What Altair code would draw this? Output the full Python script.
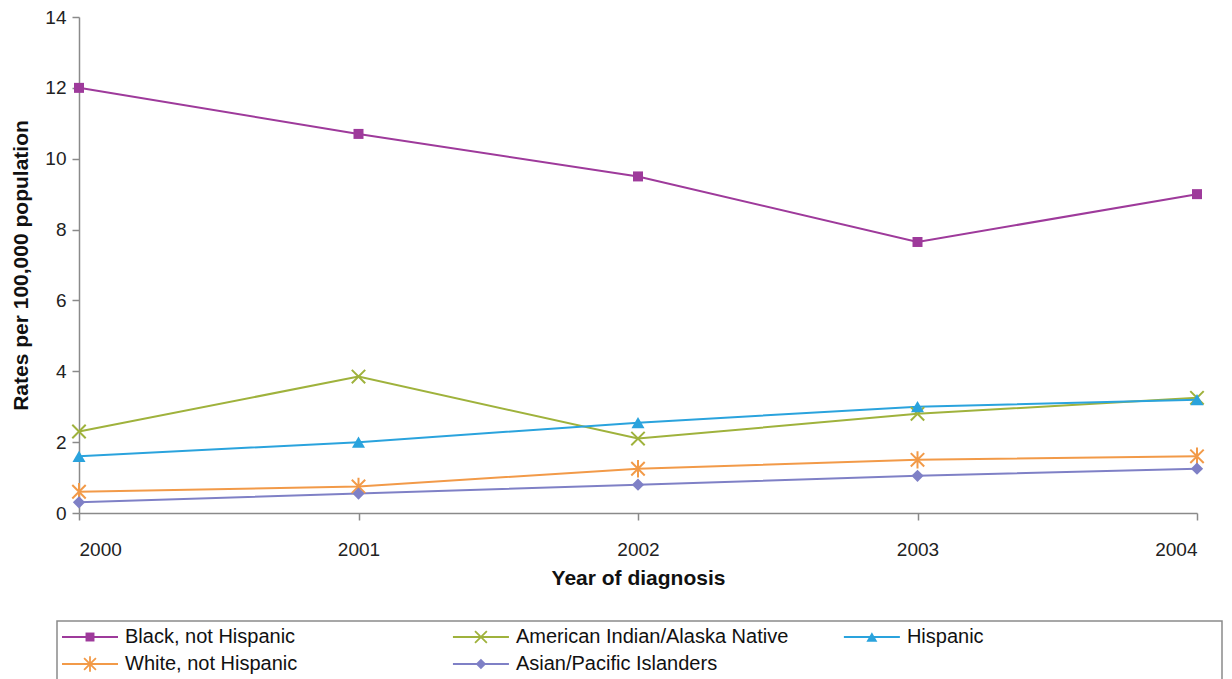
import altair as alt
import pandas as pd

years = [2000, 2001, 2002, 2003, 2004]
series_names = [
    "Black, not Hispanic",
    "American Indian/Alaska Native",
    "Hispanic",
    "White, not Hispanic",
    "Asian/Pacific Islanders",
]
black = [12.0, 10.7, 9.5, 7.65, 9.0]
aian = [2.3, 3.85, 2.1, 2.8, 3.25]
hispanic = [1.6, 2.0, 2.55, 3.0, 3.2]
white = [0.6, 0.75, 1.25, 1.5, 1.6]
asian = [0.3, 0.55, 0.8, 1.05, 1.25]

colors = ["#9E3A9B", "#9FB23C", "#2AA3DD", "#F29A48", "#7F80C6"]
shapes = [
    "square",
    "M-1,-1L1,1M-1,1L1,-1",
    "triangle-up",
    "M-1,-1L1,1M-1,1L1,-1M0,-1.3L0,1.3",
    "diamond",
]
filled = [True, False, True, False, True]
marker_sizes = [100, 180, 170, 180, 150]
legend_marker_sizes = [80, 140, 120, 140, 110]

rows = []
for name, vals in zip(series_names, [black, aian, hispanic, white, asian]):
    for yr, v in zip(years, vals):
        rows.append({"year": yr, "rate": v, "series": name})
df = pd.DataFrame(rows)

leg_rows = []
for i, name in enumerate(series_names):
    leg_rows.append({"series": name, "col": i % 3, "row": i // 3})
leg_df = pd.DataFrame(leg_rows)

FONT = "Liberation Sans, Arial, sans-serif"
AXIS_GRAY = "#8a8a8a"
INSET = 22          # plot starts this far right of the legend box edge
PANEL_W = 1165
PLOT_W = 1118

color_scale = alt.Scale(domain=series_names, range=colors)
shape_scale = alt.Scale(domain=series_names, range=shapes)

x_enc = alt.X(
    "year:Q",
    scale=alt.Scale(domain=[2000, 2004], nice=False, zero=False, range=[INSET, INSET + PLOT_W]),
    axis=alt.Axis(
        values=years, format="d", title="Year of diagnosis", grid=False,
        tickSize=7, labelPadding=20, titlePadding=8,
        labelFont=FONT, labelFontSize=19, labelColor="#222",
        titleFont=FONT, titleFontSize=21, titleFontWeight="bold", titleColor="#111",
        domainColor=AXIS_GRAY, tickColor=AXIS_GRAY, domainWidth=1.5, tickWidth=1.5,
    ),
)
y_enc = alt.Y(
    "rate:Q",
    scale=alt.Scale(domain=[0, 14], nice=False),
    axis=alt.Axis(
        values=[0, 2, 4, 6, 8, 10, 12, 14], title="Rates per 100,000 population", grid=False,
        tickSize=7, labelPadding=6, titlePadding=13, offset=-INSET,
        labelFont=FONT, labelFontSize=19, labelColor="#222",
        titleFont=FONT, titleFontSize=21, titleFontWeight="bold", titleColor="#111",
        domainColor=AXIS_GRAY, tickColor=AXIS_GRAY, domainWidth=1.5, tickWidth=1.5,
    ),
)
color_enc = alt.Color("series:N", scale=color_scale, legend=None)
shape_enc = alt.Shape("series:N", scale=shape_scale, legend=None)

layers = [
    alt.Chart(df).mark_line(strokeWidth=2).encode(
        x=x_enc, y=y_enc, color=color_enc, detail="series:N"
    )
]
for name, f, s in zip(series_names, filled, marker_sizes):
    layers.append(
        alt.Chart(df).transform_filter(alt.datum.series == name).mark_point(
            filled=f, size=s, strokeWidth=2, opacity=1
        ).encode(x="year:Q", y="rate:Q", color=color_enc, shape=shape_enc)
    )

main = alt.layer(*layers).properties(
    width=PANEL_W, height=496, view=alt.ViewBackground(stroke=None)
)

lx = alt.X("col:Q", scale=alt.Scale(domain=[0, 2.98], nice=False, zero=False), axis=None)
ly = alt.Y(
    "row:Q",
    scale=alt.Scale(domain=[-0.593, 1.926], reverse=True, nice=False, zero=False),
    axis=None,
)
leg_color = alt.Color("series:N", scale=color_scale, legend=None)
leg_shape = alt.Shape("series:N", scale=shape_scale, legend=None)

leg_layers = [
    alt.Chart(leg_df).mark_rule(strokeWidth=2, xOffset=5, x2Offset=61).encode(
        x=lx, x2="col:Q", y=ly, color=leg_color
    )
]
for name, f, s in zip(series_names, filled, legend_marker_sizes):
    leg_layers.append(
        alt.Chart(leg_df).transform_filter(alt.datum.series == name).mark_point(
            filled=f, size=s, strokeWidth=1.8, opacity=1, xOffset=33
        ).encode(x="col:Q", y="row:Q", color=leg_color, shape=leg_shape)
    )
leg_layers.append(
    alt.Chart(leg_df).mark_text(
        align="left", baseline="middle", xOffset=68, font=FONT, fontSize=20, color="#111"
    ).encode(x="col:Q", y="row:Q", text="series:N")
)

legend = alt.layer(*leg_layers).properties(
    width=PANEL_W, height=68,
    view=alt.ViewBackground(stroke="#8a8a8a", strokeWidth=1.5),
)

chart = alt.vconcat(main, legend, spacing=32).properties(
    padding={"left": 2, "top": 0, "right": 0, "bottom": 0}
).configure_view(stroke=None)

chart.save("out.html", embed_options={"renderer": "svg", "actions": False})
